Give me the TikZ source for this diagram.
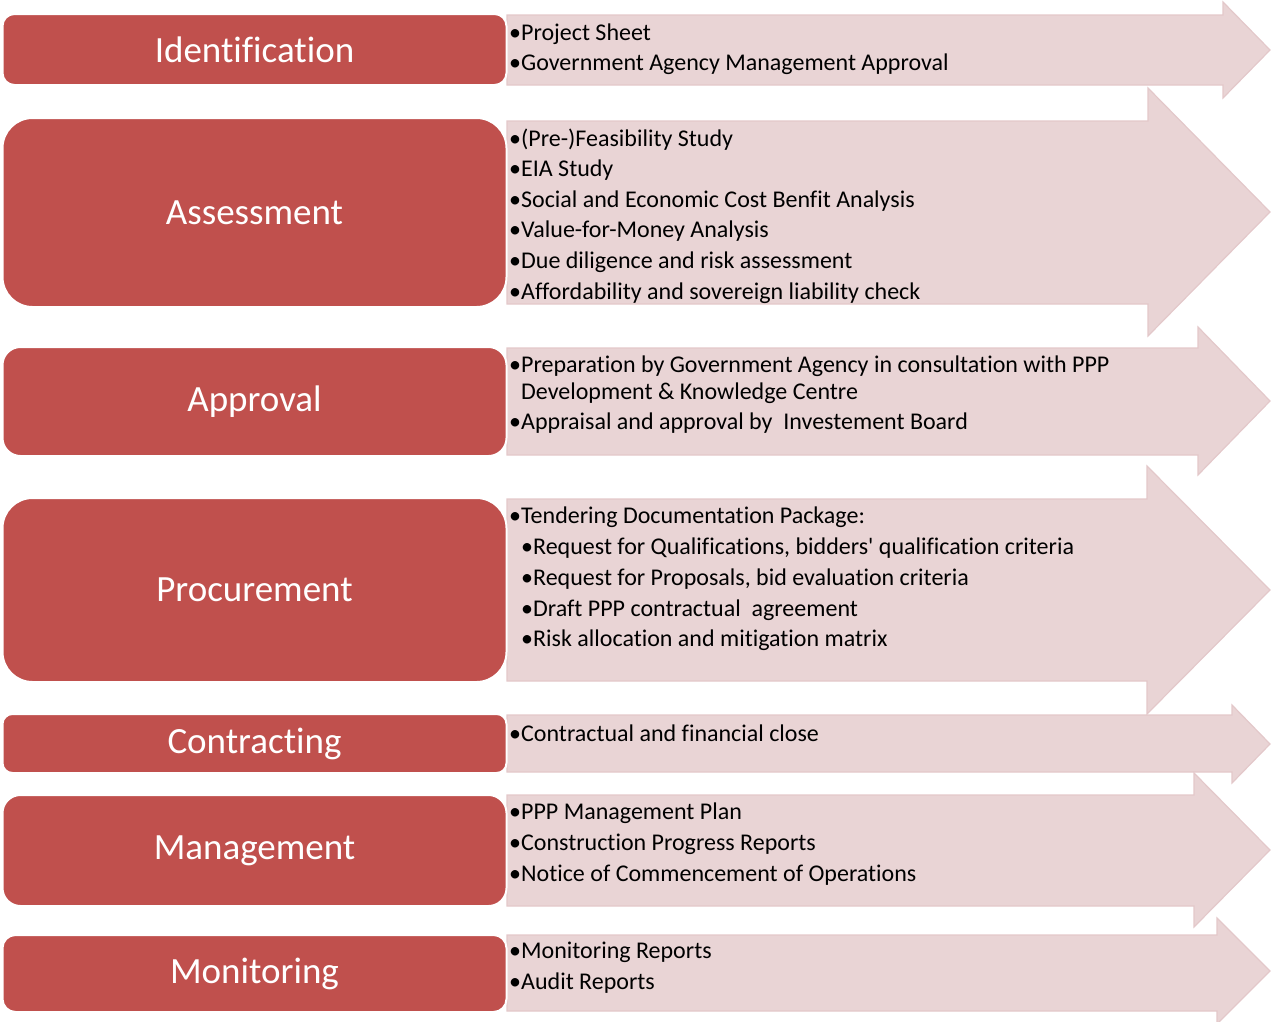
\documentclass[tikz,border=0pt]{standalone}
\usepackage{fontspec}
\setmainfont[Ligatures={NoCommon}]{Carlito}
\definecolor{stagered}{HTML}{C0504D}
\definecolor{arrowfill}{HTML}{E9D4D5}
\definecolor{arrowline}{HTML}{E3C8CA}

\begin{document}
\begin{tikzpicture}[x=1pt,y=-1pt,
    stage/.style={fill=stagered,draw=white,line width=2pt,text=white,
      minimum width=504pt,inner sep=0pt,font=\fontsize{37}{44}\selectfont},
    band/.style={fill=arrowfill,draw=arrowline,line width=1.2pt},
    item/.style={anchor=base west,inner sep=0pt,font=\fontsize{24}{29}\selectfont}]
  \useasboundingbox (0,0) rectangle (1271,1021);

  % arrows behind the stages
  \draw[band] (507,15) -- (1223,15) -- (1223,2) -- (1270,50) --
    (1223,98) -- (1223,85) -- (507,85) -- cycle;
  \draw[band] (507,121) -- (1148,121) -- (1148,88) -- (1270,212) --
    (1148,336) -- (1148,304) -- (507,304) -- cycle;
  \draw[band] (507,348) -- (1198,348) -- (1198,327) -- (1270,401) --
    (1198,475) -- (1198,455) -- (507,455) -- cycle;
  \draw[band] (507,499) -- (1147,499) -- (1147,466) -- (1270,590) --
    (1147,714) -- (1147,681) -- (507,681) -- cycle;
  \draw[band] (507,715) -- (1232,715) -- (1232,705) -- (1270,744) --
    (1232,783) -- (1232,772) -- (507,772) -- cycle;
  \draw[band] (507,795) -- (1194,795) -- (1194,773) -- (1270,850) --
    (1194,927) -- (1194,906) -- (507,906) -- cycle;
  \draw[band] (507,935) -- (1217,935) -- (1217,918) -- (1270,971) --
    (1217,1024) -- (1217,1011) -- (507,1011) -- cycle;

  % stages
  \node[stage,minimum height=71pt,rounded corners=12pt] (ident) at (254.5,49.5) {Identification};
  \node[stage,minimum height=189pt,rounded corners=30pt] (assess) at (254.5,212.5) {Assessment};
  \node[stage,minimum height=109pt,rounded corners=18pt] (approv) at (254.5,401.5) {Approval};
  \node[stage,minimum height=184pt,rounded corners=30pt] (procure) at (254.5,590) {Procurement};
  \node[stage,minimum height=59pt,rounded corners=10pt] (contract) at (254.5,743.5) {Contracting};
  \node[stage,minimum height=111pt,rounded corners=18pt] (manage) at (254.5,850.5) {Management};
  \node[stage,minimum height=77pt,rounded corners=13pt] (monitor) at (254.5,973.5) {Monitoring};

  % items
  \node[item] (ident-1) at (509,40) {•Project Sheet};
  \node[item] (ident-2) at (509,70.6) {•Government Agency Management Approval};

  \node[item] (assess-1) at (509,146) {•(Pre-)Feasibility Study};
  \node[item] (assess-2) at (509,176.6) {•EIA Study};
  \node[item] (assess-3) at (509,207.2) {•Social and Economic Cost Benfit Analysis};
  \node[item] (assess-4) at (509,237.8) {•Value-for-Money Analysis};
  \node[item] (assess-5) at (509,268.4) {•Due diligence and risk assessment};
  \node[item] (assess-6) at (509,299) {•Affordability and sovereign liability check};

  \node[item] (approv-1) at (509,372) {•Preparation by Government Agency in consultation with PPP};
  \node[item] (approv-1b) at (509,399) {\phantom{•}Development \& Knowledge Centre};
  \node[item] (approv-2) at (509,429) {•Appraisal and approval by\ \ Investement Board};

  \node[item] (procure-1) at (509,523) {•Tendering Documentation Package:};
  \node[item] (procure-2) at (521,554) {•Request for Qualifications, bidders\textquotesingle\ qualification criteria};
  \node[item] (procure-3) at (521,585) {•Request for Proposals, bid evaluation criteria};
  \node[item] (procure-4) at (521,616) {•Draft PPP contractual\ \ agreement};
  \node[item] (procure-5) at (521,646) {•Risk allocation and mitigation matrix};

  \node[item] (contract-1) at (509,741) {•Contractual and financial close};

  \node[item] (manage-1) at (509,819) {•PPP Management Plan};
  \node[item] (manage-2) at (509,850) {•Construction Progress Reports};
  \node[item] (manage-3) at (509,881) {•Notice of Commencement of Operations};

  \node[item] (monitor-1) at (509,958) {•Monitoring Reports};
  \node[item] (monitor-2) at (509,989) {•Audit Reports};
\end{tikzpicture}
\end{document}
